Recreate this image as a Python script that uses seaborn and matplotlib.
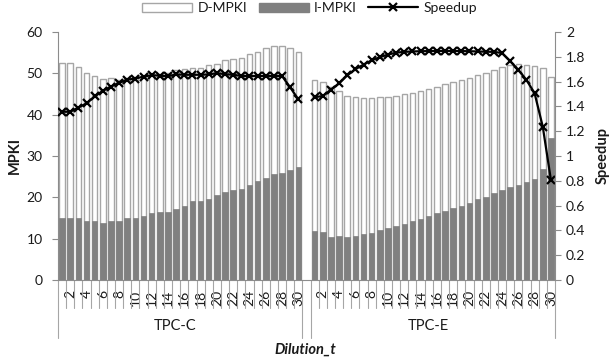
import numpy as np
import pandas as pd
import matplotlib
matplotlib.use("Agg")
import matplotlib.pyplot as plt
import matplotlib.transforms as mtransforms
from matplotlib.patches import Patch
from matplotlib.lines import Line2D
import seaborn as sns

# ---------------- data ----------------
groups = ["TPC-C", "TPC-E"]
dilution = list(range(1, 31))

tpcc_impki = [15.1, 15.1, 15.0, 14.2, 14.2, 13.8, 14.3, 14.2, 15.0, 15.0,
              15.4, 16.2, 16.4, 16.4, 17.2, 18.0, 19.0, 19.0, 19.7, 20.5,
              21.2, 21.7, 22.0, 23.1, 23.9, 24.7, 25.7, 25.9, 26.5, 27.3]
tpcc_total = [52.4, 52.4, 51.5, 50.2, 49.4, 48.6, 48.8, 48.4, 48.8, 49.0,
              49.3, 49.6, 49.9, 50.2, 50.7, 51.0, 51.4, 51.4, 51.9, 52.3,
              53.2, 53.5, 53.8, 54.7, 55.2, 56.1, 56.7, 56.7, 56.1, 55.2]
tpcc_speedup = [1.357, 1.357, 1.39, 1.425, 1.48, 1.525, 1.56, 1.59, 1.615, 1.625,
                1.64, 1.652, 1.648, 1.643, 1.658, 1.655, 1.655, 1.655, 1.658, 1.668,
                1.66, 1.655, 1.645, 1.645, 1.645, 1.645, 1.645, 1.645, 1.553, 1.457]

tpce_impki = [11.8, 11.5, 10.5, 10.7, 10.4, 10.7, 11.1, 11.4, 12.0, 12.6,
              13.0, 13.6, 14.2, 14.8, 15.4, 16.2, 16.6, 17.4, 18.0, 18.6,
              19.5, 20.1, 21.1, 21.7, 22.4, 23.1, 23.8, 24.5, 26.9, 34.3]
tpce_total = [48.4, 47.8, 46.6, 45.7, 44.5, 44.2, 44.1, 44.0, 44.3, 44.3,
              44.5, 44.9, 45.3, 45.8, 46.3, 46.8, 47.3, 47.8, 48.3, 48.9,
              49.5, 50.2, 50.9, 51.5, 52.0, 52.3, 52.0, 51.8, 51.2, 49.2]
tpce_speedup = [1.475, 1.483, 1.535, 1.585, 1.65, 1.70, 1.737, 1.772, 1.797, 1.818,
                1.833, 1.840, 1.843, 1.845, 1.846, 1.847, 1.847, 1.847, 1.846, 1.845,
                1.843, 1.841, 1.840, 1.830, 1.765, 1.695, 1.613, 1.505, 1.236, 0.806]

series_names = ["D-MPKI", "I-MPKI", "Speedup"]

# ---------------- style ----------------
sns.set_style("white")
plt.rcParams['font.family'] = ['Lato', 'DejaVu Sans']
FS = 10
GRAY_AX = '#8C8C8C'
D_EDGE = '#A6A6A6'
I_FILL = '#808080'
TXT = '#1a1a1a'

rows = []
for g, imp, tot, sp in [(groups[0], tpcc_impki, tpcc_total, tpcc_speedup),
                        (groups[1], tpce_impki, tpce_total, tpce_speedup)]:
    for d, i, t, s in zip(dilution, imp, tot, sp):
        rows.append(dict(cat=f"{g}|{d}", group=g, dil=d, impki=i, total=t, speedup=s))
    if g == groups[0]:
        rows.append(dict(cat="gap", group="", dil=np.nan, impki=np.nan,
                         total=np.nan, speedup=np.nan))
full = pd.DataFrame(rows)
full["pos"] = np.arange(len(full))
order = list(full["cat"])
df = full[full["group"] != ""].copy()

fig = plt.figure(figsize=(6.11, 3.62), dpi=100)
L, R, B, T = 58 / 611, 555 / 611, 1 - 280 / 362, 1 - 32 / 362
ax = fig.add_axes([L, B, R - L, T - B])

bw = 0.68
sns.barplot(data=df, x="cat", y="total", order=order, color="white",
            edgecolor=D_EDGE, linewidth=1.0, width=bw, errorbar=None,
            saturation=1, ax=ax)
sns.barplot(data=df, x="cat", y="impki", order=order, color=I_FILL,
            edgecolor=I_FILL, linewidth=0.5, width=bw, errorbar=None,
            saturation=1, ax=ax)

ax.set_xlim(-0.5, len(order) - 0.5)
ax.set_ylim(0, 60)
ax.set_yticks(np.arange(0, 61, 10))
ax.set_xlabel("")
ax.set_ylabel("")

lab = df[df["dil"] % 2 == 0]
ax.set_xticks(lab["pos"].tolist())
ax.set_xticklabels([str(int(v)) for v in lab["dil"]], rotation=90, fontsize=FS)
ax.tick_params(axis='x', length=0, pad=7, labelcolor=TXT)
ax.tick_params(axis='y', length=4, width=0.8, color=GRAY_AX, direction='out',
               labelsize=FS, pad=7, left=True, labelcolor=TXT)

for s in ["top", "right"]:
    ax.spines[s].set_visible(False)
for s in ["left", "bottom"]:
    ax.spines[s].set_color(GRAY_AX)
    ax.spines[s].set_linewidth(0.8)

# category boundary lines (multi-level axis)
trans = mtransforms.blended_transform_factory(ax.transData, ax.transAxes)
n = len(order)
long_bounds = {-0.5, 29.5, 30.5, n - 0.5}
for k in range(n + 1):
    xb = k - 0.5
    y1 = -58 / 248 if xb in long_bounds else -28 / 248
    ax.add_line(Line2D([xb, xb], [0, y1], transform=trans, color=D_EDGE,
                       lw=0.8, clip_on=False))

for g in groups:
    cpos = df[df["group"] == g]["pos"].mean()
    ax.text(cpos - 0.6, -46 / 248, g, transform=trans, ha='center', va='center',
            fontsize=FS + 0.5, color=TXT)

# speedup on secondary axis
ax2 = ax.twinx()
for g in groups:
    sub = df[df["group"] == g]
    sns.lineplot(data=sub, x="pos", y="speedup", ax=ax2, color="black",
                 marker="x", markersize=6, markeredgewidth=1.6,
                 markeredgecolor="black", linewidth=1.6, legend=False)
ax2.set_ylim(0, 2)
yt = np.round(np.arange(0, 2.01, 0.2), 1)
ax2.set_yticks(yt)
ax2.set_yticklabels([f"{v:g}" for v in yt], fontsize=FS, color=TXT)
ax2.set_xlim(-0.5, n - 0.5)
ax2.set_xlabel("")
ax2.set_ylabel("")
ax2.tick_params(axis='y', length=4, width=0.8, color=GRAY_AX, direction='out',
                pad=4, right=True)
for s in ["top", "left", "bottom"]:
    ax2.spines[s].set_visible(False)
ax2.spines["right"].set_color(GRAY_AX)
ax2.spines["right"].set_linewidth(0.8)

fig.text(15 / 611, 1 - 156 / 362, "MPKI", rotation=90, ha='center', va='center',
         fontsize=FS + 0.5, fontweight='bold', color=TXT)
fig.text(603 / 611, 1 - 156 / 362, "Speedup", rotation=90, ha='center', va='center',
         fontsize=FS + 0.5, fontweight='bold', color=TXT)
fig.text(305 / 611, 1 - 350 / 362, "Dilution_t", ha='center', va='center',
         fontsize=FS + 0.5, fontweight='bold', fontstyle='italic', color=TXT)

handles = [Patch(facecolor='white', edgecolor=D_EDGE, linewidth=1.0),
           Patch(facecolor=I_FILL, edgecolor=I_FILL),
           Line2D([], [], color='black', marker='x', lw=1.6, ms=6, mew=1.6)]
leg = fig.legend(handles, series_names, loc='center', bbox_to_anchor=(0.507, 0.977),
                 ncol=3, frameon=False, fontsize=FS, handlelength=3.6, handleheight=0.7,
                 handletextpad=0.4, columnspacing=0.8, borderaxespad=0, borderpad=0)
for t in leg.get_texts():
    t.set_color(TXT)

fig.savefig("out.png", dpi=100)
